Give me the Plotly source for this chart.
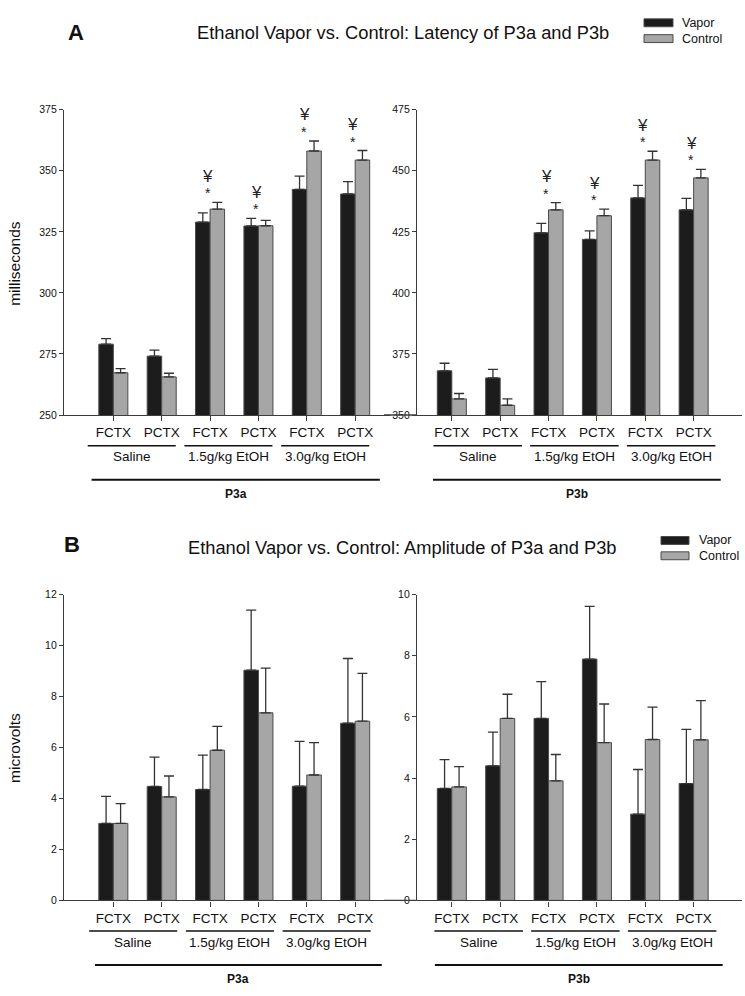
import plotly.graph_objects as go

# ---------------- data ----------------
regions = ["FCTX", "PCTX", "FCTX", "PCTX", "FCTX", "PCTX"]
groups = ["Saline", "1.5g/kg EtOH", "3.0g/kg EtOH"]
components = ["P3a", "P3b"]

lat_p3a_vapor = [279.0, 274.1, 329.0, 327.4, 342.4, 340.5]
lat_p3a_vapor_err = [2.3, 2.5, 3.8, 3.1, 5.4, 5.1]
lat_p3a_control = [267.3, 265.6, 334.3, 327.5, 358.1, 354.4]
lat_p3a_control_err = [1.7, 1.5, 2.8, 2.2, 4.1, 3.9]
lat_p3b_vapor = [368.1, 365.2, 424.6, 421.9, 438.9, 434.0]
lat_p3b_vapor_err = [3.1, 3.5, 3.9, 3.5, 5.1, 4.7]
lat_p3b_control = [356.6, 354.0, 434.0, 431.6, 454.4, 447.1]
lat_p3b_control_err = [2.2, 2.6, 3.0, 2.7, 3.6, 3.5]

amp_p3a_vapor = [3.02, 4.47, 4.35, 9.03, 4.48, 6.95]
amp_p3a_vapor_err = [1.06, 1.15, 1.35, 2.36, 1.76, 2.54]
amp_p3a_control = [3.02, 4.06, 5.89, 7.36, 4.92, 7.03]
amp_p3a_control_err = [0.78, 0.82, 0.94, 1.75, 1.27, 1.88]
amp_p3b_vapor = [3.66, 4.40, 5.95, 7.89, 2.82, 3.82]
amp_p3b_vapor_err = [0.94, 1.10, 1.20, 1.72, 1.46, 1.77]
amp_p3b_control = [3.71, 5.95, 3.91, 5.16, 5.26, 5.25]
amp_p3b_control_err = [0.66, 0.79, 0.86, 1.26, 1.06, 1.28]

sig_latency = [False, False, True, True, True, True]

lat_p3a_ticks = [250, 275, 300, 325, 350, 375]
lat_p3b_ticks = [350, 375, 400, 425, 450, 475]
amp_p3a_ticks = [0, 2, 4, 6, 8, 10, 12]
amp_p3b_ticks = [0, 2, 4, 6, 8, 10]

# ---------------- styling / layout helpers ----------------
W, H = 745, 996
FONT = "Liberation Sans, Arial, Helvetica, sans-serif"
VAPOR = "#1c1c1c"
CONTROL = "#a6a6a6"
EDGE = "#4a4a4a"
AXC = "#3c3c3c"


def px(x):
    return x / W


def py(y):
    return 1 - y / H


fig = go.Figure()

panels = [
    ("", lat_p3a_vapor, lat_p3a_vapor_err, lat_p3a_control, lat_p3a_control_err,
     lat_p3a_ticks, (64, 390), (105, 414), [-1.02, 5.72], components[0], sig_latency, (-0.53, 1.29), (-0.45, 5.51)),
    ("2", lat_p3b_vapor, lat_p3b_vapor_err, lat_p3b_control, lat_p3b_control_err,
     lat_p3b_ticks, (417, 742), (105, 414), [-0.72, 6.0], components[1], sig_latency, (-0.38, 1.45), (-0.39, 5.56)),
    ("3", amp_p3a_vapor, amp_p3a_vapor_err, amp_p3a_control, amp_p3a_control_err,
     amp_p3a_ticks, (64, 390), (595.7, 905.3), [-1.02, 5.72], components[0], None, (-0.50, 1.32), (-0.38, 5.55)),
    ("4", amp_p3b_vapor, amp_p3b_vapor_err, amp_p3b_control, amp_p3b_control_err,
     amp_p3b_ticks, (417, 742), (595.7, 905.3), [-0.72, 6.0], components[1], None, (-0.36, 1.47), (-0.35, 5.60)),
]

xs = list(range(len(regions)))
shapes = []
annotations = []

for (sfx, vap, verr, con, cerr, ticks, xd, yd, xr, comp, sig, goff, boff) in panels:
    xa = "x" + sfx
    ya = "y" + sfx
    for name, vals, errs, col in (("Vapor", vap, verr, VAPOR), ("Control", con, cerr, CONTROL)):
        fig.add_trace(go.Bar(
            x=xs, y=vals, name=name, xaxis=xa, yaxis=ya, showlegend=False,
            marker=dict(color=col, line=dict(color=EDGE, width=1)),
            error_y=dict(type="data", array=errs, arrayminus=[0] * len(errs), symmetric=False,
                         color="#333333", thickness=1.3, width=5),
        ))
    xkey = "xaxis" + sfx
    ykey = "yaxis" + sfx
    fig.layout[xkey] = dict(
        domain=[px(xd[0]), px(xd[1])], anchor=ya, range=xr,
        tickmode="array", tickvals=xs, ticktext=regions,
        ticks="outside", ticklen=5, tickwidth=1, tickcolor=AXC,
        showline=True, linecolor=AXC, linewidth=1.3, showgrid=False, zeroline=False,
        tickfont=dict(family=FONT, size=13.5, color="#111111"),
    )
    fig.layout[ykey] = dict(
        domain=[py(yd[1]), py(yd[0])], anchor=xa, range=[ticks[0], ticks[-1]],
        tickmode="array", tickvals=ticks, ticktext=[str(t) for t in ticks],
        ticks="outside", ticklen=4, tickwidth=1, tickcolor=AXC,
        showline=True, linecolor=AXC, linewidth=1.3, showgrid=False, zeroline=False,
        tickfont=dict(family=FONT, size=10.5, color="#111111"),
    )
    base_y = yd[1]
    for gi, g in enumerate(groups):
        c0 = gi * 2
        x0, x1 = c0 + goff[0], c0 + goff[1]
        shapes.append(dict(type="line", xref=xa, yref="paper", x0=x0, x1=x1,
                           y0=py(base_y + 31), y1=py(base_y + 31),
                           line=dict(color="#111111", width=1.5)))
        annotations.append(dict(text=g, xref=xa, yref="paper", x=(x0 + x1) / 2, y=py(base_y + 42.5),
                                showarrow=False, xanchor="center", yanchor="middle",
                                font=dict(family=FONT, size=13.5, color="#111111")))
    shapes.append(dict(type="line", xref=xa, yref="paper", x0=boff[0], x1=boff[1],
                       y0=py(base_y + 65.5), y1=py(base_y + 65.5),
                       line=dict(color="#111111", width=2)))
    annotations.append(dict(text="<b>" + comp + "</b>", xref=xa, yref="paper",
                            x=(boff[0] + boff[1]) / 2, y=py(base_y + 79.5),
                            showarrow=False, xanchor="center", yanchor="middle",
                            font=dict(family=FONT, size=12, color="#111111")))
    if sig is not None:
        for i, s in enumerate(sig):
            if not s:
                continue
            top = max(vap[i] + verr[i], con[i] + cerr[i])
            annotations.append(dict(text="*", xref=xa, yref=ya, x=i - 0.05, y=top,
                                    yshift=9, showarrow=False, yanchor="middle",
                                    font=dict(family=FONT, size=14, color="#222222")))
            annotations.append(dict(text="¥", xref=xa, yref=ya, x=i - 0.05, y=top,
                                    yshift=26, showarrow=False, yanchor="middle",
                                    font=dict(family=FONT, size=17, color="#222222")))

for yline in (414, 905.3):
    shapes.append(dict(type="line", xref="paper", yref="paper", x0=px(384), x1=px(417),
                       y0=py(yline), y1=py(yline), line=dict(color=AXC, width=1.3)))

heads = [
    ("A", 76, 27, "Ethanol Vapor vs. Control: Latency of P3a and P3b", 402.5, 27,
     "milliseconds", 261, (644, 673, 17, 33, 680)),
    ("B", 72, 545, "Ethanol Vapor vs. Control: Amplitude of P3a and P3b", 402.5, 548,
     "microvolts", 751, (661, 689, 541, 556.5, 697)),
]
for letter, lx, ly, title, tx, ty, ytitle, yty, leg in heads:
    annotations.append(dict(text="<b>" + letter + "</b>", xref="paper", yref="paper",
                            x=px(lx), y=py(ly), showarrow=False, xanchor="center", yanchor="middle",
                            font=dict(family=FONT, size=22, color="#111111")))
    annotations.append(dict(text=title, xref="paper", yref="paper",
                            x=px(tx), y=py(ty), showarrow=False, xanchor="center", yanchor="middle",
                            font=dict(family=FONT, size=18.3, color="#111111")))
    annotations.append(dict(text=ytitle, xref="paper", yref="paper", textangle=-90,
                            x=px(15), y=py(yty), showarrow=False, xanchor="center", yanchor="middle",
                            font=dict(family=FONT, size=15.5, color="#111111")))
    bx0, bx1, vy, cy, tx0 = leg
    for name, col, yy in (("Vapor", VAPOR, vy), ("Control", CONTROL, cy)):
        shapes.append(dict(type="rect", xref="paper", yref="paper", x0=px(bx0), x1=px(bx1),
                           y0=py(yy + 4), y1=py(yy - 4), fillcolor=col,
                           line=dict(color=EDGE, width=1)))
        annotations.append(dict(text=name, xref="paper", yref="paper", x=px(tx0), y=py(yy),
                                showarrow=False, xanchor="left", yanchor="middle",
                                font=dict(family=FONT, size=12.5, color="#111111")))

fig.update_layout(
    width=W, height=H,
    margin=dict(l=0, r=0, t=0, b=0),
    paper_bgcolor="white", plot_bgcolor="white",
    barmode="group", bargap=0.4, bargroupgap=0,
    shapes=shapes, annotations=annotations,
    showlegend=False,
)

fig.write_html(
    "out.html",
    config={"displayModeBar": False},
    post_script="document.body.style.margin='0';document.body.style.overflow='hidden';",
)
